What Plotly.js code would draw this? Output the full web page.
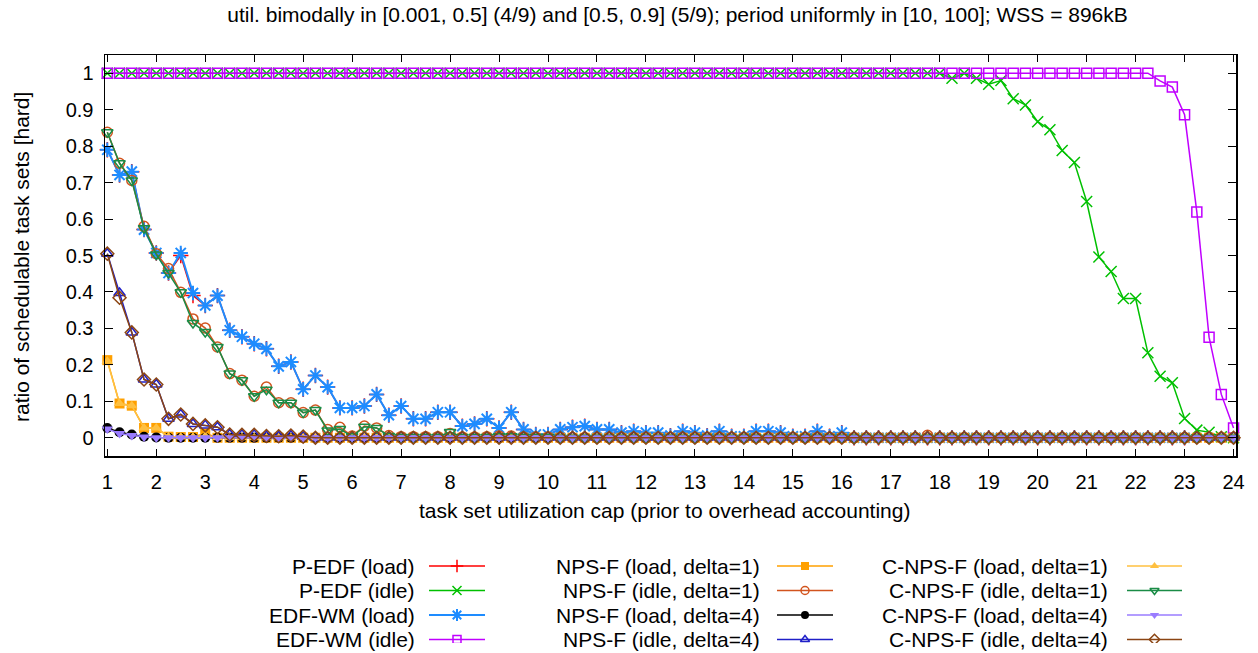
<!DOCTYPE html>
<html>
<head>
<meta charset="utf-8">
<script src="https://cdn.plot.ly/plotly-3.0.1.min.js"></script>
<style>html,body{margin:0;padding:0;background:#fff;}#chart{width:1258px;height:653px;}</style>
</head>
<body>
<div id="chart"></div>
<script>
// ---------- data ----------
const xCap = [1,
  1.25,1.5,1.75,2, 2.25,2.5,2.75,3, 3.25,3.5,3.75,4, 4.25,4.5,4.75,5,
  5.25,5.5,5.75,6, 6.25,6.5,6.75,7, 7.25,7.5,7.75,8, 8.25,8.5,8.75,9,
  9.25,9.5,9.75,10, 10.25,10.5,10.75,11, 11.25,11.5,11.75,12, 12.25,12.5,12.75,13,
  13.25,13.5,13.75,14, 14.25,14.5,14.75,15, 15.25,15.5,15.75,16, 16.25,16.5,16.75,17,
  17.25,17.5,17.75,18, 18.25,18.5,18.75,19, 19.25,19.5,19.75,20, 20.25,20.5,20.75,21,
  21.25,21.5,21.75,22, 22.25,22.5,22.75,23, 23.25,23.5,23.75,24];

const pedfLoad = [0.790,
  0.721,0.730,0.571,0.507, 0.452,0.500,0.390,0.363, 0.390,0.295,0.277,0.258, 0.244,0.196,0.208,0.133,
  0.171,0.139,0.082,0.082, 0.087,0.119,0.062,0.087, 0.052,0.052,0.070,0.070, 0.032,0.038,0.052,0.027,
  0.070,0.023,0.009,0.009, 0.023,0.029,0.032,0.023, 0.023,0.014,0.018,0.014, 0.014,0.006,0.018,0.014,
  0.006,0.018,0.004,0.004, 0.018,0.018,0.014,0.004, 0.004,0.018,0.004,0.014, 0,0,0,0,
  0,0,0,0, 0,0,0,0, 0,0,0,0,
  0,0,0,0, 0,0,0,0, 0,0,0,0];

const pedfIdle = [1,
  1,1,1,1, 1,1,1,1, 1,1,1,1, 1,1,1,1,
  1,1,1,1, 1,1,1,1, 1,1,1,1, 1,1,1,1,
  1,1,1,1, 1,1,1,1, 1,1,1,1, 1,1,1,1,
  1,1,1,1, 1,1,1,1, 1,1,1,1, 1,1,1,1,
  1,1,1,1, 0.986,1.000,0.986,0.970, 0.980,0.930,0.913,0.867, 0.845,0.788,0.755,0.648,
  0.496,0.456,0.382,0.382, 0.233,0.169,0.151,0.053, 0.021,0.015,0.003,0];

const edfwmLoad = [0.790,
  0.721,0.730,0.571,0.507, 0.452,0.507,0.397,0.363, 0.390,0.295,0.277,0.258, 0.244,0.196,0.208,0.133,
  0.171,0.139,0.082,0.082, 0.087,0.119,0.062,0.087, 0.052,0.052,0.070,0.070, 0.032,0.038,0.052,0.027,
  0.070,0.023,0.009,0.009, 0.023,0.029,0.032,0.023, 0.023,0.014,0.018,0.014, 0.014,0.006,0.018,0.014,
  0.006,0.018,0.004,0.004, 0.018,0.018,0.014,0.004, 0.004,0.018,0.004,0.014, 0,0,0,0,
  0,0,0,0, 0,0,0,0, 0,0,0,0,
  0,0,0,0, 0,0,0,0, 0,0,0,0];

const edfwmIdle = [1,
  1,1,1,1, 1,1,1,1, 1,1,1,1, 1,1,1,1,
  1,1,1,1, 1,1,1,1, 1,1,1,1, 1,1,1,1,
  1,1,1,1, 1,1,1,1, 1,1,1,1, 1,1,1,1,
  1,1,1,1, 1,1,1,1, 1,1,1,1, 1,1,1,1,
  1,1,1,1, 1,1,1,1, 1,1,1,1, 1,1,1,1,
  1,1,1,1, 1,0.979,0.962,0.886, 0.619,0.276,0.119,0.027];

const npsfLoad1 = [0.213,
  0.094,0.088,0.027,0.027, 0.003,0.002,0.002,0.012, 0,0,0,0, 0,0,0,0,
  0,0,0,0, 0,0,0,0, 0,0,0,0, 0,0,0,0,
  0,0,0,0, 0,0,0,0, 0,0,0,0, 0,0,0,0,
  0,0,0,0, 0,0,0,0, 0,0,0,0, 0,0,0,0,
  0,0,0,0, 0,0,0,0, 0,0,0,0, 0,0,0,0,
  0,0,0,0, 0,0,0,0, 0,0,0,0];

const npsfIdle1 = [0.838,
  0.753,0.706,0.580,0.505, 0.464,0.399,0.326,0.301, 0.249,0.176,0.158,0.114, 0.139,0.096,0.096,0.069,
  0.076,0.023,0.029,0.005, 0.032,0.027,0.006,0.003, 0.003,0.003,0.003,0.012, 0.002,0.002,0.003,0.005,
  0.005,0.002,0.002,0.002, 0,0,0,0, 0,0,0,0, 0,0,0,0,
  0,0,0,0, 0,0,0,0, 0,0,0,0, 0,0,0,0,
  0,0,0.007,0, 0,0,0,0, 0,0,0,0, 0,0,0,0,
  0,0,0,0, 0,0,0,0, 0,0,0,0];

const npsfLoad4 = [0.027,
  0.015,0.009,0.003,0.001, 0,0,0,0, 0,0,0,0, 0,0,0,0,
  0,0,0,0, 0,0,0,0, 0,0,0,0, 0,0,0,0,
  0,0,0,0, 0,0,0,0, 0,0,0,0, 0,0,0,0,
  0,0,0,0, 0,0,0,0, 0,0,0,0, 0,0,0,0,
  0,0,0,0, 0,0,0,0, 0,0,0,0, 0,0,0,0,
  0,0,0,0, 0,0,0,0, 0,0,0,0];

const npsfIdle4 = [0.505,
  0.397,0.289,0.160,0.146, 0.052,0.064,0.038,0.034, 0.029,0.009,0.008,0.008, 0.005,0.004,0.006,0.003,
  0,0,0,0, 0,0,0,0, 0,0,0,0, 0,0,0,0,
  0,0,0,0, 0,0,0,0, 0,0,0,0, 0,0,0,0,
  0,0,0,0, 0,0,0,0, 0,0,0,0, 0,0,0,0,
  0,0,0,0, 0,0,0,0, 0,0,0,0, 0,0,0,0,
  0,0,0,0, 0,0,0,0, 0,0,0,0];

const cnpsfLoad1 = [0.210,
  0.094,0.088,0.027,0.027, 0.003,0.002,0.002,0.004, 0,0,0,0, 0,0,0,0,
  0,0,0,0, 0,0,0,0, 0,0,0,0, 0,0,0,0,
  0,0,0,0, 0,0,0,0, 0,0,0,0, 0,0,0,0,
  0,0,0,0, 0,0,0,0, 0,0,0,0, 0,0,0,0,
  0,0,0,0, 0,0,0,0, 0,0,0,0, 0,0,0,0,
  0,0,0,0, 0,0,0,0, 0,0,0,0];

const cnpsfIdle1 = [0.838,
  0.753,0.706,0.575,0.503, 0.452,0.399,0.315,0.290, 0.249,0.176,0.158,0.114, 0.132,0.096,0.096,0.069,
  0.076,0.020,0.024,0.004, 0.030,0.027,0.005,0.002, 0.002,0.002,0.002,0.016, 0.002,0.002,0.002,0.004,
  0.004,0.002,0.002,0.002, 0,0,0,0, 0,0,0,0, 0,0,0,0,
  0,0,0,0, 0,0,0,0, 0,0,0,0, 0,0,0,0,
  0,0,0,0, 0,0,0,0, 0,0,0,0, 0,0,0,0,
  0,0,0,0, 0,0,0,0, 0,0,0,0];

const cnpsfLoad4 = [0.024,
  0.012,0.006,0.002,0, 0,0,0,0, 0,0,0,0, 0,0,0,0,
  0,0,0,0, 0,0,0,0, 0,0,0,0, 0,0,0,0,
  0,0,0,0, 0,0,0,0, 0,0,0,0, 0,0,0,0,
  0,0,0,0, 0,0,0,0, 0,0,0,0, 0,0,0,0,
  0,0,0,0, 0,0,0,0, 0,0,0,0, 0,0,0,0,
  0,0,0,0, 0,0,0,0, 0,0,0,0];

const cnpsfIdle4 = [0.505,
  0.384,0.289,0.160,0.146, 0.052,0.064,0.038,0.034, 0.029,0.009,0.008,0.008, 0.005,0.004,0.006,0.003,
  0,0,0,0, 0,0,0,0, 0,0,0,0, 0,0,0,0,
  0,0,0,0, 0,0,0,0, 0,0,0,0, 0,0,0,0,
  0,0,0,0, 0,0,0,0, 0,0,0,0, 0,0,0,0,
  0,0,0,0, 0,0,0,0, 0,0,0,0, 0,0,0,0,
  0,0,0,0, 0,0,0,0, 0,0,0,0];

const xTickVals = [1,2,3,4,5,6,7,8,9,10,11,12,13,14,15,16,17,18,19,20,21,22,23,24];
const yTickVals = [0,0.1,0.2,0.3,0.4,0.5,0.6,0.7,0.8,0.9,1];
const yTickText = ['0','0.1','0.2','0.3','0.4','0.5','0.6','0.7','0.8','0.9','1'];

const titleText = 'util. bimodally in [0.001, 0.5] (4/9) and [0.5, 0.9] (5/9); period uniformly in [10, 100]; WSS = 896kB';
const xTitle = 'task set utilization cap (prior to overhead accounting)';
const yTitle = 'ratio of schedulable task sets [hard]';

// ---------- styles ----------
const series = [
  {name:'P-EDF (load)',            y:pedfLoad,   color:'#ff0000', symbol:'cross-thin-open',    size:11, lw:1.5, ml:1.5},
  {name:'P-EDF (idle)',            y:pedfIdle,   color:'#00c000', symbol:'x-thin-open',        size:11, lw:1.5, ml:1.5},
  {name:'EDF-WM (load)',           y:edfwmLoad,  color:'#1e8cff', symbol:'asterisk-open',      size:12, lw:2,   ml:2},
  {name:'EDF-WM (idle)',           y:edfwmIdle,  color:'#c000ff', symbol:'square-open',        size:10, lw:1.5, ml:1.5},
  {name:'NPS-F (load, delta=1)',   y:npsfLoad1,  color:'#ffa000', symbol:'square',             size:10, lw:1.5, ml:0},
  {name:'NPS-F (idle, delta=1)',   y:npsfIdle1,  color:'#d2541e', symbol:'circle-open',        size:10, lw:1.5, ml:1.5},
  {name:'NPS-F (load, delta=4)',   y:npsfLoad4,  color:'#000000', symbol:'circle',             size:10, lw:1.5, ml:0},
  {name:'NPS-F (idle, delta=4)',   y:npsfIdle4,  color:'#2020c8', symbol:'triangle-up-open',   size:10, lw:1.5, ml:1.5},
  {name:'C-NPS-F (load, delta=1)', y:cnpsfLoad1, color:'#ffc040', symbol:'triangle-up',        size:10, lw:1.5, ml:0},
  {name:'C-NPS-F (idle, delta=1)', y:cnpsfIdle1, color:'#1a8c46', symbol:'triangle-down-open', size:10, lw:1.5, ml:1.5},
  {name:'C-NPS-F (load, delta=4)', y:cnpsfLoad4, color:'#9a7cff', symbol:'triangle-down',      size:10, lw:1.5, ml:0},
  {name:'C-NPS-F (idle, delta=4)', y:cnpsfIdle4, color:'#8b4513', symbol:'diamond-open',       size:10, lw:1.5, ml:1.5}
];

// ---------- geometry ----------
const W = 1258, H = 653;
const M = {l:105, r:22, t:55, b:10};
const plotW = W - M.l - M.r;
const paperH = H - M.t - M.b;
const plotBottomPx = 456;
const py2paper = py => (H - M.b - py) / paperH;
const px2paper = px => (px - M.l) / plotW;
const FONT = 'Liberation Sans, Arial, sans-serif';
const FS = 21;

const traces = series.map(s => ({
  type:'scatter', mode:'lines+markers', x:xCap, y:s.y, name:s.name, showlegend:false,
  line:{color:s.color, width:s.lw},
  marker:{symbol:s.symbol, size:s.size, color:s.color, line:{color:s.color, width:s.ml}},
  xaxis:'x', yaxis:'y', cliponaxis:false
}));

// custom gnuplot-like key (text right-aligned, sample on the right)
const keyCols = [
  {textRight:417, x0:429, x1:485},
  {textRight:762, x0:777, x1:833},
  {textRight:1110, x0:1127, x1:1182}
];
const keyRow0 = 566, keyRowStep = 24.5;
const annotations = [];
series.forEach((s, i) => {
  const c = keyCols[Math.floor(i/4)];
  const rowY = keyRow0 + (i%4)*keyRowStep;
  const xm = (c.x0 + c.x1)/2;
  traces.push({
    type:'scatter', mode:'lines+markers', x:[c.x0, xm, c.x1], y:[rowY,rowY,rowY],
    xaxis:'x2', yaxis:'y2', showlegend:false, hoverinfo:'skip',
    line:{color:s.color, width:s.lw},
    marker:{symbol:s.symbol, size:s.size-2, color:s.color, opacity:[0,1,0],
            line:{color:s.color, width:s.ml}}
  });
  annotations.push({
    xref:'paper', yref:'paper', x:px2paper(c.textRight), y:py2paper(rowY),
    xanchor:'right', yanchor:'middle', showarrow:false, text:s.name,
    font:{family:FONT, size:FS, color:'#000'}
  });
});

annotations.push({
  xref:'paper', yref:'paper', x:px2paper(664), y:py2paper(510),
  xanchor:'center', yanchor:'middle', showarrow:false, text:xTitle,
  font:{family:FONT, size:FS, color:'#000'}
});
annotations.push({
  xref:'paper', yref:'paper', x:px2paper(21), y:py2paper(257),
  xanchor:'center', yanchor:'middle', showarrow:false, text:yTitle, textangle:-90,
  font:{family:FONT, size:FS, color:'#000'}
});

const layout = {
  width:W, height:H, paper_bgcolor:'#fff', plot_bgcolor:'#fff',
  margin:{l:M.l, r:M.r, t:M.t, b:M.b, pad:0},
  showlegend:false,
  font:{family:FONT, size:FS, color:'#000'},
  title:{text:titleText, font:{family:FONT, size:FS, color:'#000'},
         xref:'container', x:677.5/W, xanchor:'center',
         yref:'container', y:1-15/H, yanchor:'middle'},
  xaxis:{domain:[0,1], range:[0.953, 24.05], tickvals:xTickVals, ticktext:xTickVals.map(String),
         ticks:'inside', ticklen:7, tickwidth:1, tickcolor:'#000', mirror:'allticks',
         showline:true, linecolor:'#000', linewidth:1.5, showgrid:false, zeroline:false,
         tickfont:{family:FONT, size:20, color:'#000'}, ticklabelstandoff:7, fixedrange:true},
  yaxis:{domain:[py2paper(plotBottomPx), 1], range:[-0.05, 1.05], tickvals:yTickVals, ticktext:yTickText,
         ticks:'inside', ticklen:8, tickwidth:1, tickcolor:'#000', mirror:'allticks',
         showline:true, linecolor:'#000', linewidth:1.5, showgrid:false, zeroline:false,
         tickfont:{family:FONT, size:20, color:'#000'}, ticklabelstandoff:6, fixedrange:true},
  xaxis2:{domain:[0,1], range:[M.l, W-M.r], visible:false, fixedrange:true, anchor:'y2'},
  yaxis2:{domain:[0, py2paper(540)], range:[H-M.b, 540], visible:false, fixedrange:true, anchor:'x2'},
  annotations:annotations
};

Plotly.newPlot('chart', traces, layout, {displayModeBar:false, staticPlot:true});
</script>
</body>
</html>
